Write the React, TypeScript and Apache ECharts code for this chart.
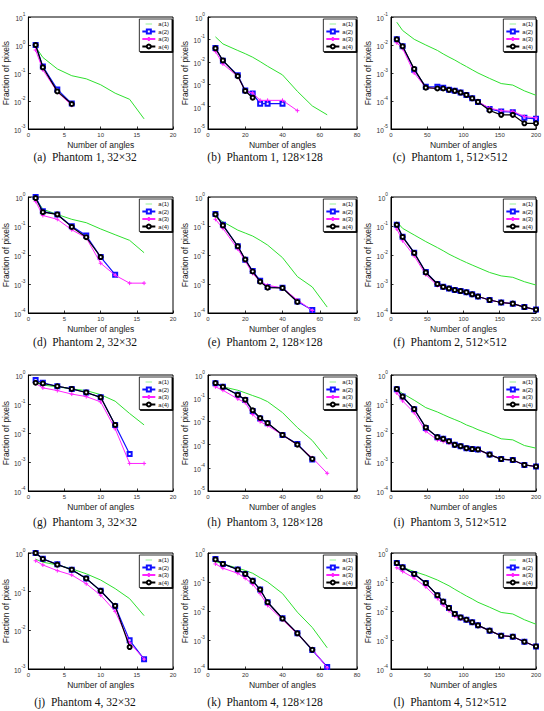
import React, { useEffect, useRef } from "react";
import * as echarts from "echarts";

// Angle counts used for each image size
const X32 = [1, 2, 4, 6, 8, 10, 12, 14, 16];
const X128 = [4, 8, 16, 20, 24, 28, 32, 40, 48, 56, 64];
const X512 = [8, 16, 32, 48, 64, 72, 80, 88, 96, 104, 112, 120, 136, 152, 168, 184, 200];

const NAMES = ["a(1)", "a(2)", "a(3)", "a(4)"];

// Phantom 1
const p1s32a1 = [0.85, 0.36, 0.14, 0.08, 0.062, 0.038, 0.019, 0.0115, 0.0023];
const p1s32a2 = [1.0, 0.17, 0.026, 0.0081];
const p1s32a3 = [0.66, 0.13, 0.021, 0.007];
const p1s32a4 = [1.0, 0.16, 0.022, 0.0078];

const p1s128a1 = [0.13, 0.063, 0.032, 0.023, 0.016, 0.0102, 0.0063, 0.0026, 0.00048, 0.000107, 0.000043];
const p1s128a2 = [0.041, 0.011, 0.0025, 0.00052, 0.00038, 0.000135, 0.000135, 0.000135];
const p1s128a3 = [0.029, 0.008, 0.0022, 0.0005, 0.0004, 0.00019, 0.00019, 0.00019, 0.000066];
const p1s128a4 = [0.04, 0.0115, 0.0023, 0.0005, 0.00025];

const p1s512a1 = [0.065, 0.033, 0.016, 0.01, 0.0064, 0.0048, 0.0037, 0.0029, 0.0022, 0.0017, 0.0013, 0.001, 0.00064, 0.00042, 0.00037, 0.00023, 0.00016];
const p1s512a2 = [0.016, 0.0091, 0.0013, 0.00032, 0.00032, 0.0003, 0.00025, 0.00023, 0.0002, 0.000165, 0.000125, 0.000093, 0.000052, 0.000042, 0.00004, 0.000025, 0.000023];
const p1s512a3 = [0.012, 0.0075, 0.001, 0.0003, 0.00028, 0.00028, 0.00025, 0.00023, 0.0002, 0.000165, 0.000125, 0.000093, 0.000056, 0.000045, 0.000043, 0.000028, 0.000025];
const p1s512a4 = [0.016, 0.009, 0.0014, 0.0003, 0.00028, 0.00028, 0.00025, 0.00023, 0.0002, 0.000165, 0.000125, 0.000093, 0.000046, 0.000032, 0.000032, 0.000016, 0.000016];

// Phantom 2
const p2s32a1 = [0.9, 0.38, 0.25, 0.17, 0.13, 0.079, 0.05, 0.032, 0.012];
const p2s32a2 = [1.0, 0.32, 0.25, 0.098, 0.047, 0.0085, 0.0021];
const p2s32a3 = [0.71, 0.23, 0.17, 0.074, 0.039, 0.0052, 0.002, 0.00107, 0.00107];
const p2s32a4 = [0.92, 0.3, 0.25, 0.093, 0.041, 0.0085];

const p2s128a1 = [0.21, 0.14, 0.072, 0.057, 0.045, 0.032, 0.022, 0.0081, 0.0018, 0.00079, 0.00016];
const p2s128a2 = [0.26, 0.11, 0.02, 0.0069, 0.0028, 0.0013, 0.00079, 0.00074, 0.00025, 0.000126];
const p2s128a3 = [0.17, 0.083, 0.016, 0.0061, 0.0023, 0.0012, 0.0009, 0.00073, 0.00028, 0.000122];
const p2s128a4 = [0.25, 0.105, 0.02, 0.007, 0.0027, 0.0012, 0.00075, 0.00073, 0.00024];

const p2s512a1 = [0.14, 0.083, 0.049, 0.029, 0.018, 0.014, 0.0107, 0.0085, 0.0068, 0.0055, 0.0045, 0.0037, 0.0025, 0.0019, 0.0017, 0.0012, 0.00092];
const p2s512a2 = [0.11, 0.043, 0.012, 0.0026, 0.001, 0.0008, 0.0007, 0.00062, 0.00057, 0.00052, 0.00044, 0.00037, 0.00028, 0.00023, 0.00021, 0.00016, 0.000132];
const p2s512a3 = [0.079, 0.031, 0.0093, 0.0021, 0.00089, 0.00075, 0.00068, 0.00061, 0.00057, 0.00052, 0.00044, 0.00037, 0.00028, 0.00023, 0.00021, 0.00016, 0.00013];
const p2s512a4 = [0.11, 0.042, 0.0118, 0.0025, 0.001, 0.00079, 0.0007, 0.00062, 0.00057, 0.00052, 0.00044, 0.00037, 0.00028, 0.00023, 0.00021, 0.00016, 0.00013];

// Phantom 3
const p3s32a1 = [0.54, 0.45, 0.39, 0.33, 0.29, 0.21, 0.125, 0.047, 0.019];
const p3s32a2 = [0.67, 0.54, 0.41, 0.33, 0.25, 0.17, 0.019, 0.0019];
const p3s32a3 = [0.51, 0.36, 0.29, 0.22, 0.18, 0.118, 0.014, 0.00089, 0.00089];
const p3s32a4 = [0.54, 0.51, 0.41, 0.33, 0.25, 0.17, 0.019];

const p3s128a1 = [0.44, 0.31, 0.22, 0.17, 0.13, 0.1, 0.071, 0.024, 0.0054, 0.0015, 0.00024];
const p3s128a2 = [0.44, 0.31, 0.14, 0.083, 0.028, 0.0135, 0.0083, 0.0026, 0.00107, 0.00023];
const p3s128a3 = [0.31, 0.22, 0.093, 0.064, 0.02, 0.0098, 0.0066, 0.0026, 0.00096, 0.00027, 0.000058];
const p3s128a4 = [0.45, 0.31, 0.14, 0.086, 0.03, 0.014, 0.0085, 0.0026, 0.001, 0.00024];

const p3s512a1 = [0.32, 0.23, 0.135, 0.075, 0.053, 0.043, 0.035, 0.029, 0.024, 0.019, 0.016, 0.013, 0.0093, 0.0063, 0.0058, 0.0037, 0.003];
const p3s512a2 = [0.32, 0.18, 0.066, 0.015, 0.0072, 0.0063, 0.0052, 0.0039, 0.0035, 0.003, 0.0028, 0.0027, 0.0018, 0.00126, 0.00117, 0.00079, 0.0007];
const p3s512a3 = [0.24, 0.128, 0.05, 0.0115, 0.0058, 0.0051, 0.0045, 0.004, 0.0033, 0.0029, 0.0027, 0.0026, 0.0018, 0.00126, 0.00117, 0.00079, 0.0007];
const p3s512a4 = [0.33, 0.18, 0.067, 0.0155, 0.0072, 0.0063, 0.0052, 0.0039, 0.0035, 0.003, 0.0028, 0.0027, 0.0018, 0.00126, 0.00117, 0.00079, 0.0007];

// Phantom 4
const p4s32a1 = [0.69, 0.58, 0.49, 0.39, 0.29, 0.2, 0.12, 0.066, 0.024];
const p4s32a2 = [1.0, 0.71, 0.51, 0.37, 0.22, 0.105, 0.042, 0.0055, 0.0018];
const p4s32a3 = [0.63, 0.49, 0.35, 0.27, 0.16, 0.081, 0.031, 0.0048, 0.0018];
const p4s32a4 = [1.0, 0.7, 0.5, 0.37, 0.22, 0.105, 0.043, 0.0037];

const p4s128a1 = [0.51, 0.42, 0.3, 0.25, 0.2, 0.14, 0.1, 0.04, 0.0091, 0.0027, 0.00054];
const p4s128a2 = [0.62, 0.42, 0.27, 0.19, 0.11, 0.055, 0.02, 0.0056, 0.0017, 0.00045, 0.000118];
const p4s128a3 = [0.42, 0.3, 0.2, 0.134, 0.083, 0.04, 0.0155, 0.005, 0.0016, 0.00048, 0.00011];
const p4s128a4 = [0.6, 0.42, 0.27, 0.19, 0.11, 0.055, 0.02, 0.0055, 0.0017, 0.00046];

const p4s512a1 = [0.42, 0.32, 0.23, 0.17, 0.117, 0.093, 0.074, 0.056, 0.043, 0.033, 0.026, 0.02, 0.0135, 0.0089, 0.0079, 0.005, 0.0035];
const p4s512a2 = [0.45, 0.32, 0.19, 0.092, 0.035, 0.021, 0.0128, 0.0079, 0.006, 0.005, 0.0041, 0.0032, 0.0021, 0.0014, 0.0013, 0.00087, 0.0006];
const p4s512a3 = [0.31, 0.23, 0.136, 0.068, 0.027, 0.016, 0.0103, 0.0065, 0.0054, 0.0047, 0.004, 0.0031, 0.0021, 0.0014, 0.0013, 0.00087, 0.0006];
const p4s512a4 = [0.45, 0.32, 0.19, 0.092, 0.035, 0.021, 0.0128, 0.0079, 0.006, 0.005, 0.0041, 0.0032, 0.0021, 0.0014, 0.0013, 0.00087, 0.0006];

const CAPTIONS = [
  "(a)  Phantom 1, 32×32", "(b)  Phantom 1, 128×128", "(c)  Phantom 1, 512×512",
  "(d)  Phantom 2, 32×32", "(e)  Phantom 2, 128×128", "(f)  Phantom 2, 512×512",
  "(g)  Phantom 3, 32×32", "(h)  Phantom 3, 128×128", "(i)  Phantom 3, 512×512",
  "(j)  Phantom 4, 32×32", "(k)  Phantom 4, 128×128", "(l)  Phantom 4, 512×512",
];

// Y range (decades) per panel
const Y_MIN_EXP = [-3, -5, -5, -4, -4, -4, -4, -5, -4, -3, -4, -4];
const Y_MAX_EXP = [1, 0, -1, 0, 0, 0, 0, 0, 0, 0, 0, 0];

const PANEL_DATA = [
  [p1s32a1, p1s32a2, p1s32a3, p1s32a4],
  [p1s128a1, p1s128a2, p1s128a3, p1s128a4],
  [p1s512a1, p1s512a2, p1s512a3, p1s512a4],
  [p2s32a1, p2s32a2, p2s32a3, p2s32a4],
  [p2s128a1, p2s128a2, p2s128a3, p2s128a4],
  [p2s512a1, p2s512a2, p2s512a3, p2s512a4],
  [p3s32a1, p3s32a2, p3s32a3, p3s32a4],
  [p3s128a1, p3s128a2, p3s128a3, p3s128a4],
  [p3s512a1, p3s512a2, p3s512a3, p3s512a4],
  [p4s32a1, p4s32a2, p4s32a3, p4s32a4],
  [p4s128a1, p4s128a2, p4s128a3, p4s128a4],
  [p4s512a1, p4s512a2, p4s512a3, p4s512a4],
];

const COL_X = [X32, X128, X512];
const COL_XMAX = [20, 80, 200];
const COL_XSTEP = [5, 20, 50];

const W = 544;
const H = 711;
const GRID_LEFT = [27, 208, 391];
const GRID_W = [146, 149, 146];
const GRID_TOP = [17, 197, 375, 553];
const GRID_H = [112, 116, 116, 116];
const CAP_X = [85, 265, 450];
const CAP_Y = [157, 342, 522, 702];

const SANS = "'Liberation Sans', Arial, Helvetica, sans-serif";
const SERIF = "'Liberation Serif', 'Times New Roman', serif";

const GREEN = "#2ee02e";
const BLUE = "#1010ff";
const MAGENTA = "#ff22ff";
const BLACK = "#000000";
const PLUS = "path://M0 5H10M5 0V10";
// thin horizontal bar; the tiny corner triangles keep the icon's box full height
const LINE_ICON = "path://M0 0L0.01 0L0 0.01ZM0 4.5H13V5.5H0ZM13 10L12.99 10L13 9.99Z";

const STYLES = [
  { color: GREEN, symbol: "none", width: 1 },
  { color: BLUE, symbol: "emptyRect", width: 1.2 },
  { color: MAGENTA, symbol: PLUS, width: 1 },
  { color: BLACK, symbol: "emptyCircle", width: 1.2 },
];

function buildOption() {
  const grid: any[] = [];
  const xAxis: any[] = [];
  const yAxis: any[] = [];
  const legend: any[] = [];
  const series: any[] = [];
  const graphic: any[] = [];

  PANEL_DATA.forEach((lines, i) => {
    const row = Math.floor(i / 3);
    const col = i % 3;
    const left = GRID_LEFT[col];
    const top = GRID_TOP[row];
    const width = GRID_W[col];

    grid.push({
      left, top, width, height: GRID_H[row],
      show: true, borderColor: "#000", borderWidth: 1, backgroundColor: "#fff",
    });

    xAxis.push({
      type: "value", gridIndex: i, min: 0, max: COL_XMAX[col], interval: COL_XSTEP[col],
      name: "Number of angles", nameLocation: "middle", nameGap: 11,
      nameTextStyle: { fontFamily: SANS, fontSize: 8.5, color: "#222" },
      axisLine: { show: true, lineStyle: { color: "#000", width: 1 } },
      axisTick: { show: true, inside: true, length: 2.5, lineStyle: { color: "#000", width: 0.8 } },
      axisLabel: { fontFamily: SANS, fontSize: 6, color: "#333", margin: 3 },
      splitLine: { show: false },
    });

    yAxis.push({
      type: "log", logBase: 10, gridIndex: i,
      min: Math.pow(10, Y_MIN_EXP[i]), max: Math.pow(10, Y_MAX_EXP[i]),
      name: "Fraction of pixels", nameLocation: "middle", nameGap: 18, nameRotate: 90,
      nameTextStyle: { fontFamily: SANS, fontSize: 8.5, color: "#222" },
      axisLine: { show: true, lineStyle: { color: "#000", width: 1 } },
      axisTick: { show: true, inside: true, length: 2.5, lineStyle: { color: "#000", width: 0.8 } },
      axisLabel: {
        margin: 3,
        formatter: (v: number) => `{b|10}{s|${Math.round(Math.log10(v))}}`,
        rich: {
          b: { fontFamily: SANS, fontSize: 6.5, color: "#333", verticalAlign: "bottom", lineHeight: 10 },
          s: { fontFamily: SANS, fontSize: 4.8, color: "#333", verticalAlign: "top", lineHeight: 10 },
        },
      },
      splitLine: { show: false },
    });

    legend.push({
      data: [
        { name: NAMES[0], icon: LINE_ICON, itemStyle: { borderWidth: 0, color: GREEN } },
        { name: NAMES[1] },
        { name: NAMES[2] },
        { name: NAMES[3] },
      ],
      orient: "vertical", selectedMode: false,
      right: W - (left + width) + 1, top: top + 2,
      itemWidth: 13, itemHeight: 5, itemGap: 1.5, padding: [2, 3, 2, 2],
      textStyle: { fontFamily: SANS, fontSize: 6, color: "#111", padding: [0, 0, 0, -2] },
      backgroundColor: "#fff", borderColor: "#000", borderWidth: 0.8,
      shadowColor: "#000", shadowOffsetX: 1, shadowOffsetY: 1, shadowBlur: 0,
      z: 10,
    });

    const xs = COL_X[col];
    lines.forEach((ys, k) => {
      const st = STYLES[k];
      series.push({
        type: "line", name: NAMES[k], xAxisIndex: i, yAxisIndex: i,
        data: ys.map((y, j) => [xs[j], y]),
        symbol: st.symbol, symbolSize: 4, showSymbol: st.symbol !== "none",
        lineStyle: { color: st.color, width: st.width },
        itemStyle: { color: st.color, borderColor: st.color, borderWidth: 1 },
        emphasis: { disabled: true }, silent: true, z: 2 + k,
      });
    });

    graphic.push({
      type: "text", x: CAP_X[col], y: CAP_Y[row], silent: true,
      style: {
        text: CAPTIONS[i],
        textAlign: "center", textVerticalAlign: "middle",
        align: "center", verticalAlign: "middle",
        font: `11.5px ${SERIF}`, fill: "#111",
      },
    });
  });

  return {
    animation: false,
    backgroundColor: "#fff",
    grid, xAxis, yAxis, legend, series, graphic,
  };
}

export default function App() {
  const ref = useRef<HTMLDivElement>(null);
  useEffect(() => {
    document.body.style.margin = "0";
    if (!ref.current) return;
    const chart = echarts.init(ref.current, undefined, { renderer: "svg" });
    chart.setOption(buildOption() as any);
    return () => chart.dispose();
  }, []);
  return <div ref={ref} style={{ width: W, height: H }} />;
}
